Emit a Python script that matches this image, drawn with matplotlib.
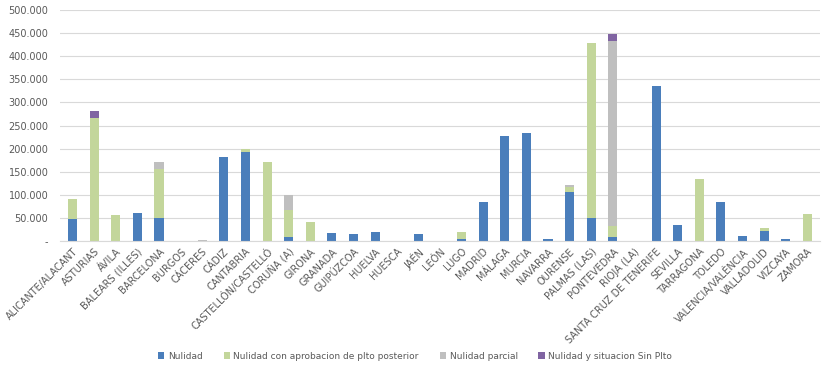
import matplotlib
matplotlib.use("Agg")
import matplotlib.pyplot as plt
import numpy as np

provincias = [
    "ALICANTE/ALACANT", "ASTURIAS", "ÁVILA", "BALEARS (ILLES)", "BARCELONA",
    "BURGOS", "CÁCERES", "CÁDIZ", "CANTABRIA", "CASTELLÓN/CASTELLÓ",
    "CORUÑA (A)", "GIRONA", "GRANADA", "GUIPÚZCOA", "HUELVA", "HUESCA",
    "JAÉN", "LEÓN", "LUGO", "MADRID", "MÁLAGA", "MURCIA", "NAVARRA",
    "OURENSE", "PALMAS (LAS)", "PONTEVEDRA", "RIOJA (LA)",
    "SANTA CRUZ DE TENERIFE", "SEVILLA", "TARRAGONA", "TOLEDO",
    "VALENCIA/VALÈNCIA", "VALLADOLID", "VIZCAYA", "ZAMORA",
]

nulidad = [48000, 0, 0, 60000, 49000, 0, 0, 182000, 192000, 0,
           8000, 0, 16500, 16000, 20000, 0, 14500, 0, 4000, 84000,
           227000, 234000, 4000, 105000, 50000, 9000, 0, 335000, 35000, 0,
           84000, 10000, 22000, 4000, 0]
nulidad_aprob = [43000, 267000, 56000, 0, 107000, 0, 0, 0, 8000, 171000,
                 60000, 40000, 0, 0, 0, 0, 0, 0, 15000, 0,
                 0, 0, 0, 12000, 379000, 23000, 0, 0, 0, 134000,
                 0, 0, 7000, 0, 59000]
nulidad_parcial = [0, 0, 0, 0, 16000, 0, 2000, 0, 0, 0,
                   32000, 0, 0, 0, 0, 0, 0, 0, 0, 0,
                   0, 0, 0, 4000, 0, 401000, 0, 0, 0, 0,
                   0, 0, 0, 0, 0]
nulidad_sin_plto = [0, 14000, 0, 0, 0, 0, 0, 0, 0, 0,
                    0, 0, 0, 0, 0, 0, 0, 0, 0, 0,
                    0, 0, 0, 0, 0, 15000, 0, 0, 0, 0,
                    0, 0, 0, 0, 0]

series = [
    ("Nulidad", nulidad, "#4a7ebb"),
    ("Nulidad con aprobacion de plto posterior", nulidad_aprob, "#c3d69b"),
    ("Nulidad parcial", nulidad_parcial, "#bfbfbf"),
    ("Nulidad y situacion Sin Plto", nulidad_sin_plto, "#8064a2"),
]

fig = plt.figure(figsize=(8.27, 3.65), dpi=100)
ax = fig.add_axes([0.072, 0.34, 0.92, 0.632])

x = np.arange(len(provincias))
bottom = np.zeros(len(provincias))
for label, vals, color in series:
    vals = np.array(vals, dtype=float)
    ax.bar(x, vals, 0.42, bottom=bottom, color=color, label=label, zorder=2)
    bottom += vals

ax.set_xlim(-0.6, len(provincias) - 0.4)
ax.set_ylim(0, 500000)
ticks = np.arange(0, 500001, 50000)
ax.set_yticks(ticks)
ax.set_yticklabels(["-"] + [f"{t:,}".replace(",", ".") for t in ticks[1:]],
                   fontsize=7, color="#595959")
ax.set_xticks(x)
ax.set_xticklabels(provincias, rotation=45, ha="right", rotation_mode="anchor",
                   fontsize=7, color="#595959")
ax.tick_params(length=0, pad=4)
ax.tick_params(axis="y", pad=8)
ax.grid(axis="y", color="#d9d9d9", linewidth=0.8, zorder=0)
for s in ["top", "right", "left"]:
    ax.spines[s].set_visible(False)
ax.spines["bottom"].set_color("#d9d9d9")

fig.legend(loc="lower center", ncol=4, frameon=False, fontsize=6.5,
           handlelength=0.7, handleheight=0.7, columnspacing=2.3,
           handletextpad=0.4, bbox_to_anchor=(0.502, -0.01), labelcolor="#595959")

fig.savefig("out.png", dpi=100)
